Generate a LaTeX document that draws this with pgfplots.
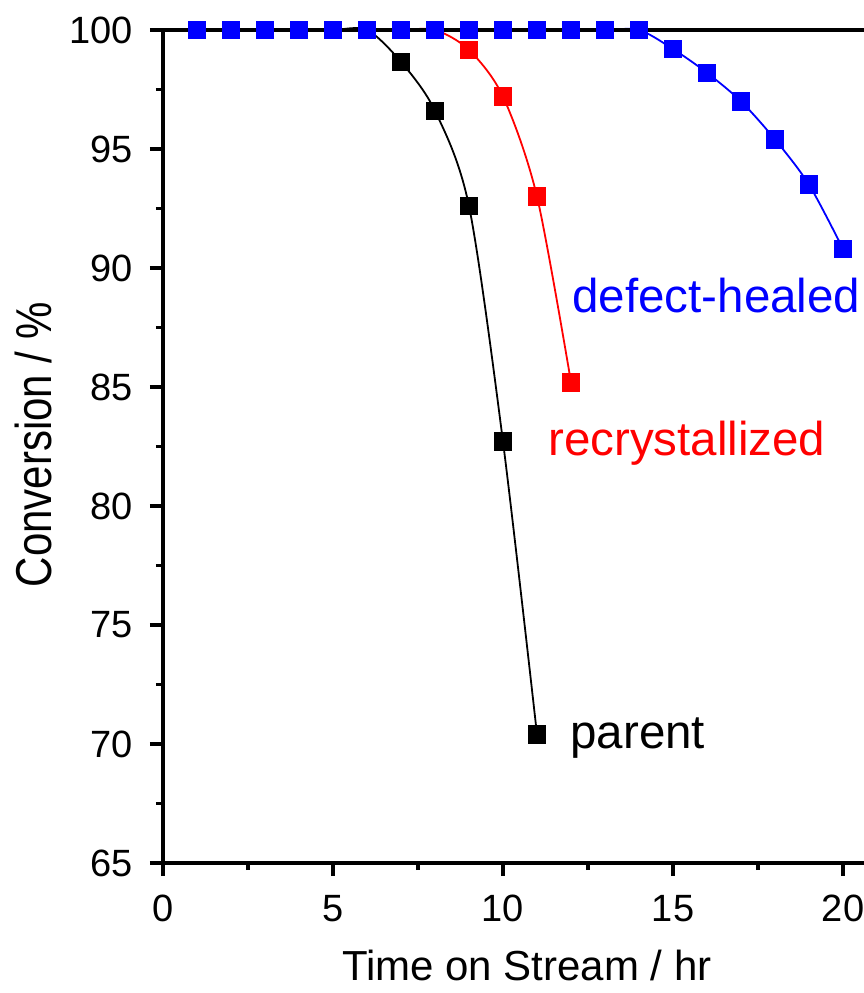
\documentclass[border=0pt]{standalone}
\usepackage{fontspec}
\setmainfont{Liberation Sans}
\usepackage{pgfplots}
\pgfplotsset{compat=1.18}
\begin{document}
\begin{tikzpicture}
\begin{axis}[
 scale only axis, width=357pt, height=416.5pt,
 xmin=0, xmax=21, ymin=65, ymax=100,
 xtick={0,5,10,15,20}, ytick={65,70,...,100},
 minor tick num=1,
 tick align=outside, tick pos=left,
 major tick length=6.5pt, minor tick length=3.5pt,
 axis line style={line width=2pt},
 every tick/.style={line width=1.6pt, black},
 /pgf/number format/assume math mode=true,
 ticklabel style={font=\fontsize{19}{22}\selectfont},
 yticklabel style={xshift=-5pt},
 xticklabel style={yshift=-6pt},
 xlabel={Time on Stream / hr},
 ylabel={\scalebox{1}[1.2]{Conversion / \%}},
 xlabel style={font=\fontsize{21}{24}\selectfont, at={(axis description cs:0.5095,-0.104)}, anchor=north, inner sep=0pt},
 ylabel style={font=\fontsize{21}{24}\selectfont, at={(axis description cs:-0.181,0.502)}, anchor=center, inner sep=0pt},
 axis on top, clip=false,
]
\addplot[black, line width=0.9pt, smooth, mark=square*, mark size=4.4pt, mark options={line width=0pt, fill=black}] coordinates {
(1,100) (2,100) (3,100) (4,100) (5,100) (6,100) (7,98.66) (8,96.6) (9,92.6) (10,82.7) (11,70.4)};
\addplot[red, line width=0.9pt, smooth, mark=square*, mark size=4.4pt, mark options={line width=0pt, fill=red}] coordinates {
(1,100) (2,100) (3,100) (4,100) (5,100) (6,100) (7,100) (8,100) (9,99.16) (10,97.2) (11,93.0) (12,85.2)};
\addplot[blue, line width=0.9pt, smooth, mark=square*, mark size=4.4pt, mark options={line width=0pt, fill=blue}] coordinates {
(1,100) (2,100) (3,100) (4,100) (5,100) (6,100) (7,100) (8,100) (9,100) (10,100) (11,100) (12,100) (13,100) (14,100) (15,99.2) (16,98.2) (17,97.0) (18,95.4) (19,93.5) (20,90.8)};
\node[anchor=base west, inner sep=0pt, text=blue, font=\fontsize{23.75}{26}\selectfont] at (axis cs:12.03,88.11) {defect-healed};
\node[anchor=base west, inner sep=0pt, text=red, font=\fontsize{23.75}{26}\selectfont] at (axis cs:11.32,82.14) {recrystallized};
\node[anchor=base west, inner sep=0pt, text=black, font=\fontsize{23.75}{26}\selectfont] at (axis cs:11.97,69.83) {parent};
\coordinate (bl) at (axis cs:0,65);
\coordinate (tl) at (axis cs:0,100);
\end{axis}
\pgfresetboundingbox
\useasboundingbox ([xshift=-81.5pt,yshift=-65pt]bl) rectangle ([xshift=350pt,yshift=15pt]tl);
\end{tikzpicture}
\end{document}
